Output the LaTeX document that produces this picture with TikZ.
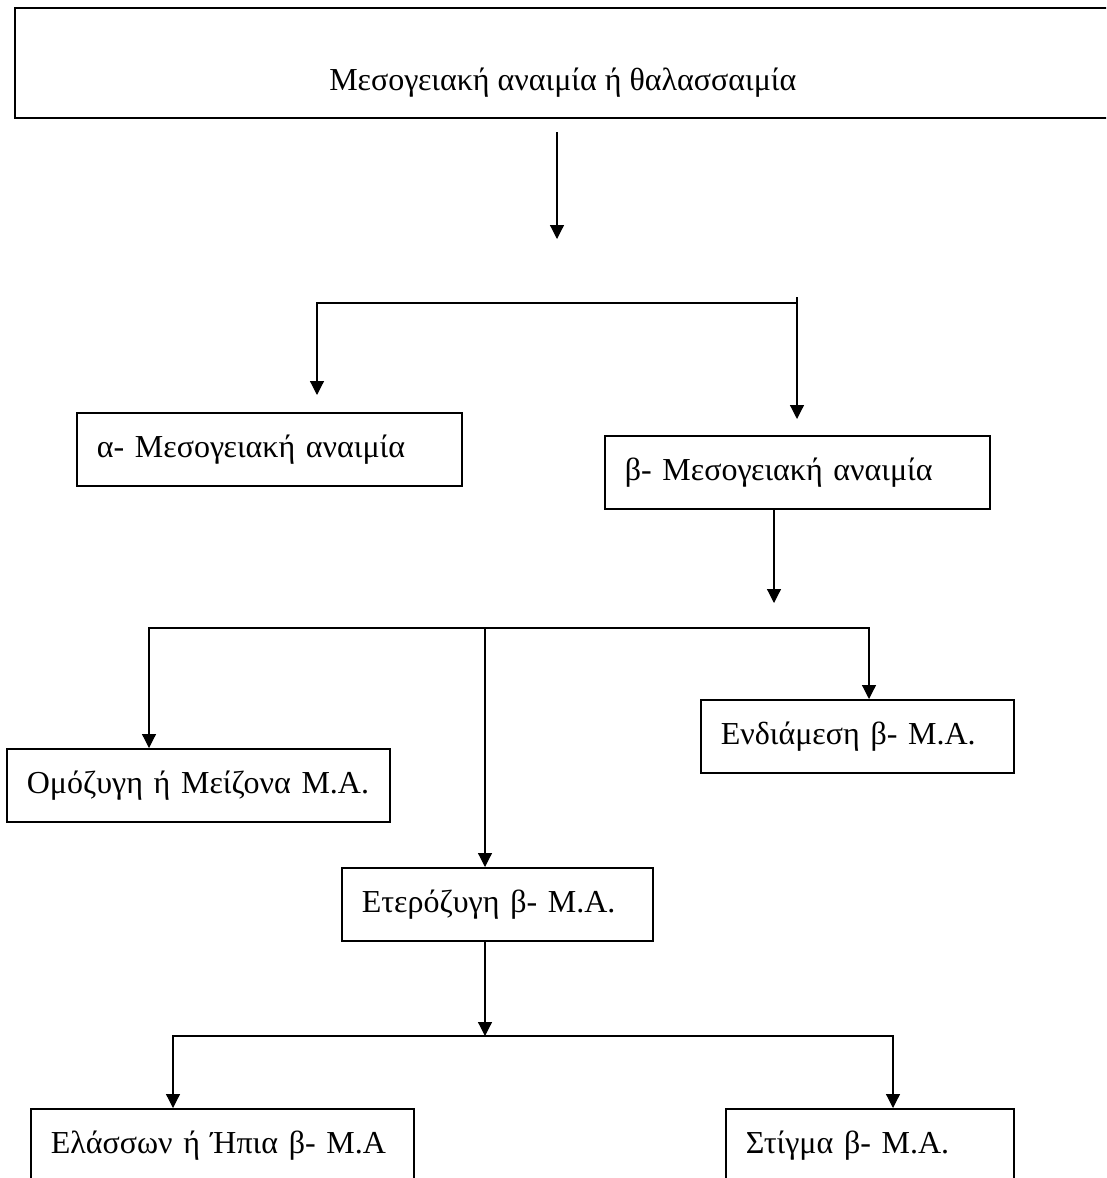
\documentclass[tikz,border=0pt]{standalone}
\usepackage{fontspec}
\setmainfont{Liberation Serif}
\usetikzlibrary{positioning,arrows.meta,calc}

\begin{document}
\begin{tikzpicture}[x=1pt,y=-1pt,
  box/.style={draw,line width=1.6pt,anchor=north west,align=left,inner xsep=20pt,
    minimum height=73pt,font=\fontsize{32}{36}\selectfont},
  arr/.style={line width=1.2pt,-{Triangle[length=14pt,width=14pt]}}]
  \useasboundingbox (0,0) rectangle (1106,1178);
  \clip (0,0) rectangle (1106,1178);
  % top level
  \node[box,align=center,inner ysep=0pt,minimum width=1096pt,text height=83pt,text depth=27pt]
    (thal) at (14,7) {Μεσογειακή αναιμία ή θαλασσαιμία};
  \coordinate (t1) at (557,132);
  \coordinate (t2) at (557,239);
  \draw[arr] (t1) -- (t2);
  % alpha / beta
  \node[box,text width=345pt] (alpha) at (76,412) {α- Μεσογειακή αναιμία};
  \node[box,text width=345pt] (beta) at (604,435) {β- Μεσογειακή αναιμία};
  \coordinate (j1) at (797,303);
  \coordinate (j1l) at (317,395);
  \coordinate (j1r) at (797,419);
  \draw[arr] (j1) -| (j1l);
  \draw[arr] ($(j1)+(0,-6)$) -- (j1r);
  % forms of beta
  \coordinate (b1) at (774,603);
  \draw[arr] (beta.south -| b1) -- (b1);
  \node[box,text width=343pt] (omo) at (6,748) {Ομόζυγη ή Μείζονα Μ.Α.};
  \node[box,text width=273pt] (endi) at (700,699) {Ενδιάμεση β- Μ.Α.};
  \node[box,text width=271pt] (eter) at (341,867) {Ετερόζυγη β- Μ.Α.};
  \coordinate (j2) at (485,628);
  \draw[arr] (j2) -| ([xshift=143pt]omo.north west);
  \draw[arr] (j2) -| ([xshift=169pt]endi.north west);
  \draw[arr] (j2) -- (eter.north -| j2);
  % heterozygous
  \node[box,text width=343pt] (elas) at (30,1108) {Ελάσσων ή Ήπια β- Μ.Α};
  \node[box,text width=248pt] (stig) at (725,1108) {Στίγμα β- Μ.Α.};
  \coordinate (j3) at (485,1036);
  \draw[arr] (eter.south -| j3) -- (j3);
  \draw[arr] (j3) -| ([xshift=143pt]elas.north west);
  \draw[arr] (j3) -| ([xshift=168pt]stig.north west);
\end{tikzpicture}
\end{document}
